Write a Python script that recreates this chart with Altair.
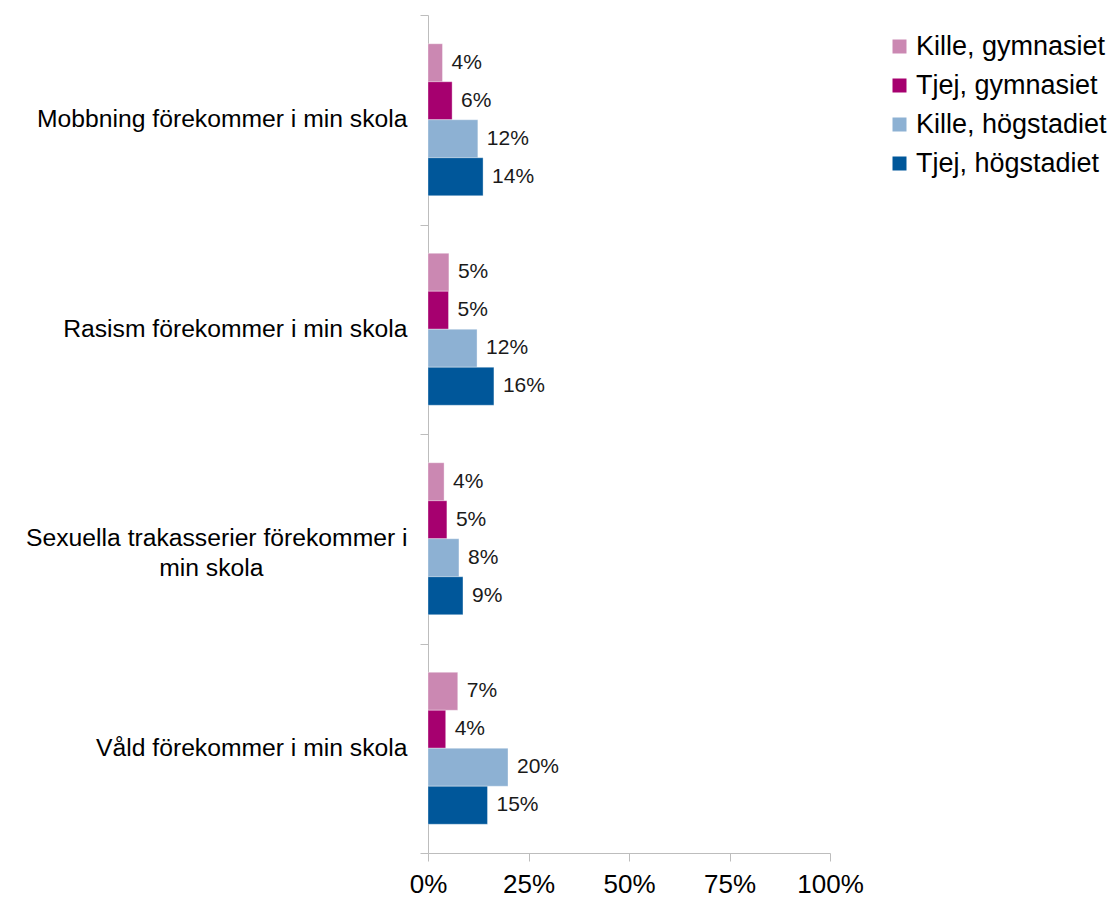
import altair as alt
import pandas as pd

categories = [
    "Mobbning förekommer i min skola",
    "Rasism förekommer i min skola",
    "Sexuella trakasserier förekommer i min skola",
    "Våld förekommer i min skola",
]
series = ["Kille, gymnasiet", "Tjej, gymnasiet", "Kille, högstadiet", "Tjej, högstadiet"]
kille_gymnasiet = [0.036, 0.052, 0.040, 0.074]
tjej_gymnasiet = [0.060, 0.051, 0.047, 0.044]
kille_hogstadiet = [0.124, 0.122, 0.077, 0.199]
tjej_hogstadiet = [0.137, 0.164, 0.087, 0.148]
colors = ["#CB88B2", "#A6006F", "#8DB1D3", "#00579A"]
x_ticks = [0, 0.25, 0.5, 0.75, 1.0]

rows = []
for i, cat in enumerate(categories):
    for s, vals in zip(series, [kille_gymnasiet, tjej_gymnasiet, kille_hogstadiet, tjej_hogstadiet]):
        rows.append({"category": cat, "series": s, "value": vals[i]})
df = pd.DataFrame(rows)

font = "Liberation Sans"
axis_gray = "#BDBDBD"
pad = "\u00a0" * 21 + "\u200b"

label_expr = (
    "datum.label == 'Sexuella trakasserier förekommer i min skola' ? "
    "['Sexuella trakasserier förekommer i', 'min skola" + pad + "'] : datum.label"
)

y = alt.Y(
    "category:N",
    sort=categories,
    scale=alt.Scale(paddingInner=0, paddingOuter=0),
    axis=alt.Axis(
        title=None,
        tickBand="extent",
        labelExpr=label_expr,
        labelFontSize=24.7,
        labelLineHeight=30,
        labelColor="#000000",
        labelFont=font,
        labelPadding=13,
        labelLimit=600,
        tickSize=8,
        tickColor=axis_gray,
        domainColor=axis_gray,
    ),
)
yoff = alt.YOffset("series:N", sort=series, scale=alt.Scale(paddingInner=0, paddingOuter=0.757))
x = alt.X(
    "value:Q",
    scale=alt.Scale(domain=[0, 1], nice=False),
    axis=alt.Axis(
        title=None,
        values=x_ticks,
        format=".0%",
        grid=False,
        tickSize=8,
        tickColor=axis_gray,
        domainColor=axis_gray,
        labelFontSize=26,
        labelFont=font,
        labelColor="#000000",
        labelPadding=10,
        labelFlush=False,
    ),
)
color = alt.Color(
    "series:N",
    sort=series,
    scale=alt.Scale(domain=series, range=colors),
    legend=alt.Legend(
        title=None,
        orient="none",
        legendX=458,
        legendY=18,
        symbolType="square",
        symbolSize=196,
        symbolStrokeWidth=0,
        labelFontSize=27,
        labelFont=font,
        labelColor="#000000",
        rowPadding=11,
        labelOffset=3,
        labelLimit=400,
    ),
)

bars = alt.Chart(df).mark_bar(
    stroke="#ffffff", strokeWidth=1, strokeOpacity=0.35
).encode(y=y, yOffset=yoff, x=x, color=color)
labels = alt.Chart(df).mark_text(
    align="left", baseline="middle", dx=9, fontSize=21, font=font, color="#1a1a1a"
).encode(
    y=alt.Y("category:N", sort=categories),
    yOffset=alt.YOffset("series:N", sort=series),
    x=alt.X("value:Q"),
    text=alt.Text("value:Q", format=".0%"),
)

chart = (
    alt.layer(bars, labels)
    .properties(
        width=402,
        height=838,
        autosize=alt.AutoSizeParams(type="none"),
        padding={"left": 420, "top": 7, "right": 278, "bottom": 44},
    )
    .configure_view(stroke=None)
)

chart.save("out.html", embed_options={"renderer": "svg", "actions": False})
